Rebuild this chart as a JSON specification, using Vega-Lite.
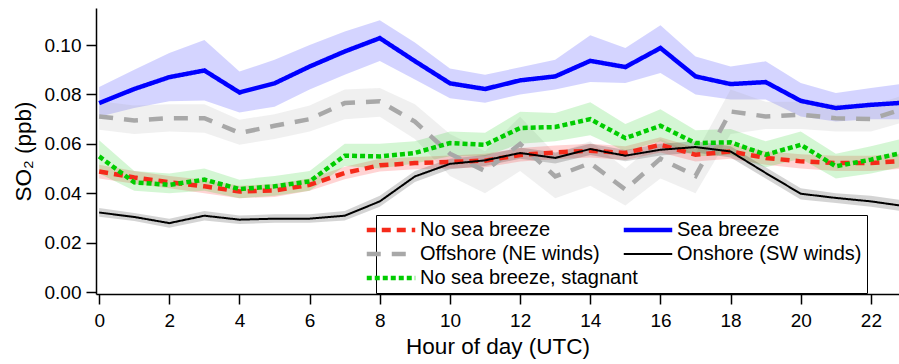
{
  "$schema": "https://vega.github.io/schema/vega-lite/v6.json",
  "width": 803,
  "height": 286,
  "autosize": {"type": "none"},
  "padding": {"left": 96, "top": 8, "right": 0, "bottom": 70},
  "background": "white",
  "config": {
    "view": {"stroke": null},
    "font": "Liberation Sans"
  },
  "datasets": {
    "so2": [
      {"s":"Sea breeze","h":0,"v":0.0765,"lo":0.071,"hi":0.083},
      {"s":"Sea breeze","h":1,"v":0.0822,"lo":0.0745,"hi":0.090},
      {"s":"Sea breeze","h":2,"v":0.087,"lo":0.0772,"hi":0.0968},
      {"s":"Sea breeze","h":3,"v":0.0897,"lo":0.0775,"hi":0.102},
      {"s":"Sea breeze","h":4,"v":0.0808,"lo":0.0727,"hi":0.0893},
      {"s":"Sea breeze","h":5,"v":0.0845,"lo":0.075,"hi":0.094},
      {"s":"Sea breeze","h":6,"v":0.0913,"lo":0.082,"hi":0.100},
      {"s":"Sea breeze","h":7,"v":0.0974,"lo":0.088,"hi":0.1055},
      {"s":"Sea breeze","h":8,"v":0.1028,"lo":0.0935,"hi":0.110},
      {"s":"Sea breeze","h":9,"v":0.0935,"lo":0.086,"hi":0.101},
      {"s":"Sea breeze","h":10,"v":0.0845,"lo":0.0785,"hi":0.0905},
      {"s":"Sea breeze","h":11,"v":0.0822,"lo":0.0766,"hi":0.088},
      {"s":"Sea breeze","h":12,"v":0.0857,"lo":0.080,"hi":0.091},
      {"s":"Sea breeze","h":13,"v":0.0873,"lo":0.082,"hi":0.094},
      {"s":"Sea breeze","h":14,"v":0.0936,"lo":0.085,"hi":0.104},
      {"s":"Sea breeze","h":15,"v":0.0911,"lo":0.0846,"hi":0.0988},
      {"s":"Sea breeze","h":16,"v":0.0988,"lo":0.0887,"hi":0.108},
      {"s":"Sea breeze","h":17,"v":0.0873,"lo":0.080,"hi":0.0954},
      {"s":"Sea breeze","h":18,"v":0.0842,"lo":0.078,"hi":0.0913},
      {"s":"Sea breeze","h":19,"v":0.085,"lo":0.078,"hi":0.0934},
      {"s":"Sea breeze","h":20,"v":0.0774,"lo":0.0711,"hi":0.0846},
      {"s":"Sea breeze","h":21,"v":0.0745,"lo":0.069,"hi":0.0806},
      {"s":"Sea breeze","h":22,"v":0.0758,"lo":0.070,"hi":0.0826},
      {"s":"Sea breeze","h":23,"v":0.0767,"lo":0.070,"hi":0.0845},
      {"s":"Offshore (NE winds)","h":0,"v":0.0711,"lo":0.0657,"hi":0.0772},
      {"s":"Offshore (NE winds)","h":1,"v":0.0695,"lo":0.064,"hi":0.0755},
      {"s":"Offshore (NE winds)","h":2,"v":0.0704,"lo":0.065,"hi":0.076},
      {"s":"Offshore (NE winds)","h":3,"v":0.0704,"lo":0.0645,"hi":0.076},
      {"s":"Offshore (NE winds)","h":4,"v":0.0644,"lo":0.0596,"hi":0.0698},
      {"s":"Offshore (NE winds)","h":5,"v":0.0673,"lo":0.062,"hi":0.072},
      {"s":"Offshore (NE winds)","h":6,"v":0.070,"lo":0.065,"hi":0.0755},
      {"s":"Offshore (NE winds)","h":7,"v":0.0765,"lo":0.070,"hi":0.082},
      {"s":"Offshore (NE winds)","h":8,"v":0.0772,"lo":0.071,"hi":0.0826},
      {"s":"Offshore (NE winds)","h":9,"v":0.069,"lo":0.062,"hi":0.076},
      {"s":"Offshore (NE winds)","h":10,"v":0.056,"lo":0.047,"hi":0.064},
      {"s":"Offshore (NE winds)","h":11,"v":0.049,"lo":0.040,"hi":0.057},
      {"s":"Offshore (NE winds)","h":12,"v":0.060,"lo":0.049,"hi":0.071},
      {"s":"Offshore (NE winds)","h":13,"v":0.0468,"lo":0.038,"hi":0.056},
      {"s":"Offshore (NE winds)","h":14,"v":0.0522,"lo":0.043,"hi":0.061},
      {"s":"Offshore (NE winds)","h":15,"v":0.0415,"lo":0.035,"hi":0.050},
      {"s":"Offshore (NE winds)","h":16,"v":0.054,"lo":0.046,"hi":0.062},
      {"s":"Offshore (NE winds)","h":17,"v":0.047,"lo":0.040,"hi":0.056},
      {"s":"Offshore (NE winds)","h":18,"v":0.0731,"lo":0.064,"hi":0.082},
      {"s":"Offshore (NE winds)","h":19,"v":0.0711,"lo":0.066,"hi":0.077},
      {"s":"Offshore (NE winds)","h":20,"v":0.0718,"lo":0.066,"hi":0.077},
      {"s":"Offshore (NE winds)","h":21,"v":0.0704,"lo":0.065,"hi":0.076},
      {"s":"Offshore (NE winds)","h":22,"v":0.070,"lo":0.065,"hi":0.0755},
      {"s":"Offshore (NE winds)","h":23,"v":0.0745,"lo":0.069,"hi":0.080},
      {"s":"No sea breeze","h":0,"v":0.0488,"lo":0.046,"hi":0.0515},
      {"s":"No sea breeze","h":1,"v":0.0464,"lo":0.0438,"hi":0.049},
      {"s":"No sea breeze","h":2,"v":0.0444,"lo":0.042,"hi":0.047},
      {"s":"No sea breeze","h":3,"v":0.0428,"lo":0.040,"hi":0.0455},
      {"s":"No sea breeze","h":4,"v":0.0407,"lo":0.038,"hi":0.043},
      {"s":"No sea breeze","h":5,"v":0.0411,"lo":0.0385,"hi":0.0437},
      {"s":"No sea breeze","h":6,"v":0.0434,"lo":0.041,"hi":0.046},
      {"s":"No sea breeze","h":7,"v":0.0482,"lo":0.0457,"hi":0.0507},
      {"s":"No sea breeze","h":8,"v":0.0513,"lo":0.0488,"hi":0.054},
      {"s":"No sea breeze","h":9,"v":0.0522,"lo":0.0497,"hi":0.0547},
      {"s":"No sea breeze","h":10,"v":0.0527,"lo":0.050,"hi":0.0553},
      {"s":"No sea breeze","h":11,"v":0.0532,"lo":0.0505,"hi":0.056},
      {"s":"No sea breeze","h":12,"v":0.0555,"lo":0.0528,"hi":0.0583},
      {"s":"No sea breeze","h":13,"v":0.0565,"lo":0.0538,"hi":0.0593},
      {"s":"No sea breeze","h":14,"v":0.0572,"lo":0.0545,"hi":0.060},
      {"s":"No sea breeze","h":15,"v":0.0563,"lo":0.0535,"hi":0.059},
      {"s":"No sea breeze","h":16,"v":0.0596,"lo":0.0565,"hi":0.0627},
      {"s":"No sea breeze","h":17,"v":0.0556,"lo":0.0528,"hi":0.0585},
      {"s":"No sea breeze","h":18,"v":0.0569,"lo":0.054,"hi":0.060},
      {"s":"No sea breeze","h":19,"v":0.0543,"lo":0.0515,"hi":0.057},
      {"s":"No sea breeze","h":20,"v":0.0529,"lo":0.050,"hi":0.0558},
      {"s":"No sea breeze","h":21,"v":0.0522,"lo":0.049,"hi":0.0552},
      {"s":"No sea breeze","h":22,"v":0.0522,"lo":0.049,"hi":0.0552},
      {"s":"No sea breeze","h":23,"v":0.0532,"lo":0.050,"hi":0.0562},
      {"s":"No sea breeze, stagnant","h":0,"v":0.0549,"lo":0.048,"hi":0.0615},
      {"s":"No sea breeze, stagnant","h":1,"v":0.0444,"lo":0.041,"hi":0.049},
      {"s":"No sea breeze, stagnant","h":2,"v":0.0434,"lo":0.040,"hi":0.048},
      {"s":"No sea breeze, stagnant","h":3,"v":0.0455,"lo":0.041,"hi":0.050},
      {"s":"No sea breeze, stagnant","h":4,"v":0.0417,"lo":0.038,"hi":0.0455},
      {"s":"No sea breeze, stagnant","h":5,"v":0.0428,"lo":0.039,"hi":0.047},
      {"s":"No sea breeze, stagnant","h":6,"v":0.0448,"lo":0.041,"hi":0.049},
      {"s":"No sea breeze, stagnant","h":7,"v":0.0552,"lo":0.051,"hi":0.060},
      {"s":"No sea breeze, stagnant","h":8,"v":0.0549,"lo":0.050,"hi":0.060},
      {"s":"No sea breeze, stagnant","h":9,"v":0.0563,"lo":0.052,"hi":0.061},
      {"s":"No sea breeze, stagnant","h":10,"v":0.0603,"lo":0.055,"hi":0.065},
      {"s":"No sea breeze, stagnant","h":11,"v":0.0596,"lo":0.055,"hi":0.0645},
      {"s":"No sea breeze, stagnant","h":12,"v":0.0664,"lo":0.060,"hi":0.073},
      {"s":"No sea breeze, stagnant","h":13,"v":0.0668,"lo":0.061,"hi":0.0725},
      {"s":"No sea breeze, stagnant","h":14,"v":0.070,"lo":0.0635,"hi":0.0768},
      {"s":"No sea breeze, stagnant","h":15,"v":0.0623,"lo":0.057,"hi":0.068},
      {"s":"No sea breeze, stagnant","h":16,"v":0.0673,"lo":0.061,"hi":0.074},
      {"s":"No sea breeze, stagnant","h":17,"v":0.0603,"lo":0.055,"hi":0.0655},
      {"s":"No sea breeze, stagnant","h":18,"v":0.0606,"lo":0.0555,"hi":0.066},
      {"s":"No sea breeze, stagnant","h":19,"v":0.0556,"lo":0.0505,"hi":0.061},
      {"s":"No sea breeze, stagnant","h":20,"v":0.0596,"lo":0.054,"hi":0.065},
      {"s":"No sea breeze, stagnant","h":21,"v":0.0509,"lo":0.046,"hi":0.056},
      {"s":"No sea breeze, stagnant","h":22,"v":0.0536,"lo":0.048,"hi":0.059},
      {"s":"No sea breeze, stagnant","h":23,"v":0.0567,"lo":0.051,"hi":0.0625},
      {"s":"Onshore (SW winds)","h":0,"v":0.0322,"lo":0.0305,"hi":0.034},
      {"s":"Onshore (SW winds)","h":1,"v":0.0304,"lo":0.0288,"hi":0.032},
      {"s":"Onshore (SW winds)","h":2,"v":0.0279,"lo":0.026,"hi":0.0297},
      {"s":"Onshore (SW winds)","h":3,"v":0.0309,"lo":0.029,"hi":0.0328},
      {"s":"Onshore (SW winds)","h":4,"v":0.0293,"lo":0.0275,"hi":0.031},
      {"s":"Onshore (SW winds)","h":5,"v":0.0297,"lo":0.028,"hi":0.0315},
      {"s":"Onshore (SW winds)","h":6,"v":0.0297,"lo":0.028,"hi":0.0315},
      {"s":"Onshore (SW winds)","h":7,"v":0.0309,"lo":0.029,"hi":0.0328},
      {"s":"Onshore (SW winds)","h":8,"v":0.0367,"lo":0.0345,"hi":0.039},
      {"s":"Onshore (SW winds)","h":9,"v":0.0468,"lo":0.0445,"hi":0.049},
      {"s":"Onshore (SW winds)","h":10,"v":0.0519,"lo":0.0497,"hi":0.054},
      {"s":"Onshore (SW winds)","h":11,"v":0.0533,"lo":0.051,"hi":0.0555},
      {"s":"Onshore (SW winds)","h":12,"v":0.0563,"lo":0.054,"hi":0.0585},
      {"s":"Onshore (SW winds)","h":13,"v":0.0543,"lo":0.052,"hi":0.0565},
      {"s":"Onshore (SW winds)","h":14,"v":0.0579,"lo":0.0555,"hi":0.060},
      {"s":"Onshore (SW winds)","h":15,"v":0.0552,"lo":0.053,"hi":0.0575},
      {"s":"Onshore (SW winds)","h":16,"v":0.0576,"lo":0.0553,"hi":0.060},
      {"s":"Onshore (SW winds)","h":17,"v":0.0587,"lo":0.0565,"hi":0.061},
      {"s":"Onshore (SW winds)","h":18,"v":0.0569,"lo":0.0545,"hi":0.059},
      {"s":"Onshore (SW winds)","h":19,"v":0.0482,"lo":0.046,"hi":0.0505},
      {"s":"Onshore (SW winds)","h":20,"v":0.0398,"lo":0.0375,"hi":0.042},
      {"s":"Onshore (SW winds)","h":21,"v":0.0381,"lo":0.036,"hi":0.040},
      {"s":"Onshore (SW winds)","h":22,"v":0.0367,"lo":0.0345,"hi":0.039},
      {"s":"Onshore (SW winds)","h":23,"v":0.0347,"lo":0.0325,"hi":0.037}
    ]
  },
  "data": {"name": "so2"},
  "layer": [
    {
      "mark": {"type": "area", "opacity": 0.17, "clip": true},
      "encoding": {
        "x": {"field": "h", "type": "quantitative",
              "scale": {"domain": [-0.09, 22.8], "nice": false, "zero": false},
              "axis": {"values": [0,2,4,6,8,10,12,14,16,18,20,22], "title": "Hour of day (UTC)", "grid": false,
                       "domainColor": "black", "domainWidth": 1.5, "tickColor": "black", "tickWidth": 1.5, "tickSize": 10,
                       "labelFontSize": 19, "labelColor": "black", "labelPadding": 7, "labelFlush": false,
                       "titleFontSize": 22.5, "titleFontWeight": "normal", "titleColor": "black", "titlePadding": 5}},
        "y": {"field": "lo", "type": "quantitative",
              "scale": {"domain": [-0.0008, 0.115], "nice": false, "zero": false},
              "axis": {"values": [0,0.02,0.04,0.06,0.08,0.10], "format": ".2f", "title": "SO₂ (ppb)", "grid": false,
                       "domainColor": "black", "domainWidth": 1.5, "tickColor": "black", "tickWidth": 1.5, "tickSize": 10,
                       "labelFontSize": 19, "labelColor": "black", "labelPadding": 5,
                       "titleFontSize": 22.5, "titleFontWeight": "normal", "titleColor": "black", "titlePadding": 9}},
        "y2": {"field": "hi"},
        "fill": {"field": "s", "type": "nominal",
                 "scale": {"domain": ["Onshore (SW winds)", "Sea breeze", "No sea breeze, stagnant", "Offshore (NE winds)", "No sea breeze"],
                           "range": ["#000000", "#0000ff", "#00cc00", "#a8a8a8", "#ff0000"]},
                 "legend": null}
      }
    },
    {
      "mark": {"type": "line", "clip": true, "strokeCap": "butt", "strokeJoin": "miter"},
      "encoding": {
        "x": {"field": "h", "type": "quantitative"},
        "y": {"field": "v", "type": "quantitative"},
        "color": {"field": "s", "type": "nominal",
                  "scale": {"domain": ["No sea breeze", "Offshore (NE winds)", "No sea breeze, stagnant", "Sea breeze", "Onshore (SW winds)"],
                            "range": ["#f52a1a", "#a8a8a8", "#00cc00", "#0000ff", "#000000"]},
                  "legend": {"orient": "none", "legendX": 280, "legendY": 207, "columns": 2, "columnPadding": -32, "rowPadding": 4,
                             "title": null, "symbolType": "stroke", "symbolSize": 2350, "symbolStrokeWidth": 4.5,
                             "labelFontSize": 20, "labelColor": "black",
                             "labelOffset": 19, "padding": 5, "strokeColor": "black", "fillColor": "white", "labelLimit": 400,
                             "encode": {"symbols": {"update": {"strokeWidth": {"signal": "datum.value === 'Onshore (SW winds)' ? 2 : 4.5"}}}}}},
        "strokeDash": {"field": "s", "type": "nominal",
                       "scale": {"domain": ["No sea breeze", "Offshore (NE winds)", "No sea breeze, stagnant", "Sea breeze", "Onshore (SW winds)"],
                                 "range": [[9,6],[14,11],[5,3],[1,0],[1,0]]}},
        "strokeWidth": {"condition": {"test": "datum.s === 'Onshore (SW winds)'", "value": 2}, "value": 4.5}
      }
    }
  ]
}
